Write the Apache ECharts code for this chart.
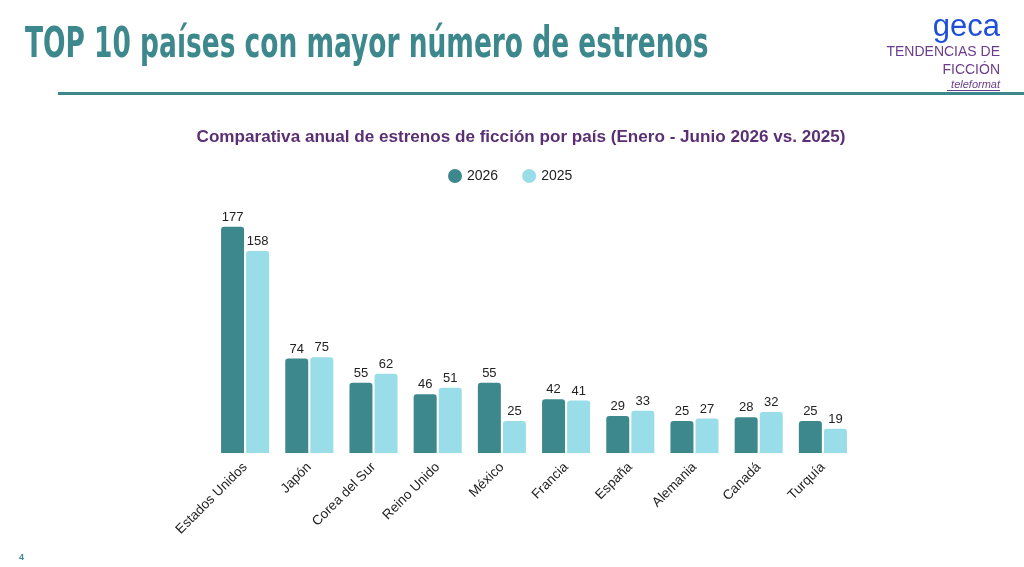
<!DOCTYPE html>
<html><head><meta charset="utf-8">
<script src="https://cdn.jsdelivr.net/npm/echarts@6/dist/echarts.min.js"></script>
<style>html,body{margin:0;padding:0;background:#fff;}#c{width:1024px;height:567px;}</style>
</head><body><div id="c"></div>
<script>
const categories = ['Estados Unidos','Japón','Corea del Sur','Reino Unido','México','Francia','España','Alemania','Canadá','Turquía'];
const values2026 = [177,74,55,46,55,42,29,25,28,25];
const values2025 = [158,75,62,51,25,41,33,27,32,19];
const seriesNames = ['2026','2025'];

const chart = echarts.init(document.getElementById('c'));
const dark = '#3d888c', light = '#99dde8';
chart.setOption({
  backgroundColor:'#ffffff',
  animation:false,
  title:[{
    text:'Comparativa anual de estrenos de ficción por país (Enero - Junio 2026 vs. 2025)',
    left:516, top:124, textAlign:'center',
    textStyle:{fontFamily:'Liberation Sans', fontWeight:'bold', fontSize:17.1, color:'#5b2f73'}
  }],
  legend:{
    data:seriesNames, top:164, left:443, itemGap:24,
    icon:'circle', itemWidth:14, itemHeight:14,
    textStyle:{fontFamily:'Liberation Sans', fontSize:14, color:'#222'}
  },
  grid:{left:213, right:169, top:223, bottom:114, containLabel:false},
  xAxis:{
    type:'category', data:categories,
    axisLine:{show:false}, axisTick:{show:false},
    axisLabel:{rotate:45, fontFamily:'Liberation Sans', fontSize:13.5, color:'#222', margin:12, interval:0}
  },
  yAxis:{type:'value', min:0, max:180, show:false, splitLine:{show:false}},
  series:[
    {name:seriesNames[0], type:'bar', data:values2026, barWidth:23, barGap:'9%',
     itemStyle:{color:dark, borderRadius:[3,3,0,0]},
     label:{show:true, position:'top', distance:3, fontFamily:'Liberation Sans', fontSize:13, color:'#222'}},
    {name:seriesNames[1], type:'bar', data:values2025, barWidth:23,
     itemStyle:{color:light, borderRadius:[3,3,0,0]},
     label:{show:true, position:'top', distance:3, fontFamily:'Liberation Sans', fontSize:13, color:'#222'}}
  ],
  graphic:[
    {type:'text', x:25, y:25, scaleX:0.70, scaleY:1, style:{text:'TOP 10 países con mayor número de estrenos', fill:'#3d888c',
      font:'bold 42px "DejaVu Sans Condensed", "DejaVu Sans", sans-serif'}},
    {type:'rect', shape:{x:58, y:92, width:966, height:3}, style:{fill:'#3d888c'}},
    {type:'text', right:24, top:12, style:{text:'geca', fill:'#1f4fd8', font:'31px "Liberation Sans", sans-serif'}},
    {type:'text', right:24, top:45, style:{text:'TENDENCIAS DE', fill:'#6b3d8a', font:'14px "Liberation Sans", sans-serif'}},
    {type:'text', right:24, top:63, style:{text:'FICCIÓN', fill:'#6b3d8a', font:'14px "Liberation Sans", sans-serif'}},
    {type:'text', right:24, top:79, style:{text:'teleformat', fill:'#6b3d8a', font:'italic 11px "Liberation Sans", sans-serif'}},
    {type:'rect', shape:{x:947, y:90, width:53, height:1}, style:{fill:'#6b3d8a'}},
    {type:'text', left:19, top:553, style:{text:'4', fill:'#3d888c', font:'bold 9px "Liberation Sans", sans-serif'}}
  ]
});
</script></body></html>
